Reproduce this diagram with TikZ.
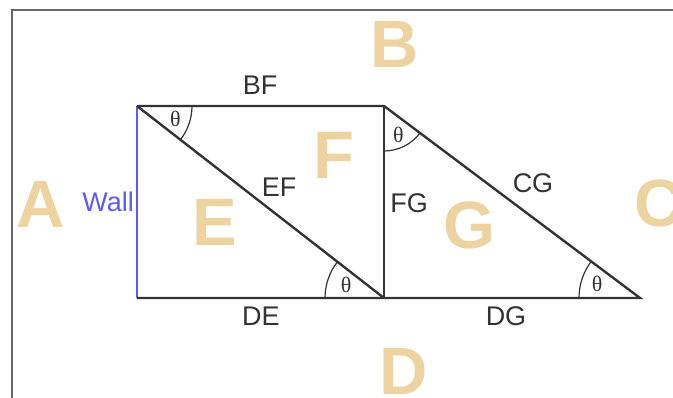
\documentclass[tikz,border=0pt]{standalone}
\usepackage{fontspec}
\setmainfont{Liberation Sans}
\newfontfamily\thetafont{Liberation Serif}
\usetikzlibrary{angles,quotes}
\definecolor{tan}{RGB}{236,211,160}
\definecolor{wallblue}{RGB}{90,90,255}
\definecolor{ink}{RGB}{51,51,51}
\tikzset{side/.style={color=#1,line width=2.4pt},side/.default=ink}
\tikzset{frame/.style={color=#1,line width=1.8pt},frame/.default={black!60}}
\tikzset{region/.style={color=tan,inner sep=0pt,font=\fontsize{67}{67}\selectfont\bfseries}}
\tikzset{sidename/.style={color=#1,inner sep=0pt,font=\fontsize{27}{27}\selectfont},sidename/.default=ink}
\tikzset{ang/.style={draw=ink,color=ink,line width=1.2pt,angle radius=#1,
    angle eccentricity=0.74,font=\fontsize{22}{22}\selectfont\thetafont},ang/.default=55pt}

\begin{document}
\begin{tikzpicture}[x=1pt,y=1pt]
	\useasboundingbox (0,0) rectangle (673,398);

	% A moldura
	\draw [frame] (12,0) -- (12,388) -- (673,388);

	% Os vertices
	\coordinate (TL) at (137,292);
	\coordinate (TM) at (384,292);
	\coordinate (BL) at (137,100);
	\coordinate (BM) at (384,100);
	\coordinate (BR) at (640,100);

	% Os lados
	\draw [side=wallblue] (TL) -- (BL);
	\draw [side, line join=miter] (BL) -- (BM) -- (BR) -- (TM) -- (TL);
	\draw [side] (TM) -- (BM);
	\draw [side] (TL) -- (BM);

	% Os angulos
	\pic [ang=55pt, "θ"] {angle=BM--TL--TM};
	\pic [ang=45pt, "θ", angle eccentricity=0.72] {angle=BM--TM--BR};
	\pic [ang=59pt, "θ", angle eccentricity=0.68] {angle=TL--BM--BL};
	\pic [ang=61pt, "θ"] {angle=TM--BR--BM};

	% Nomes dos lados
	\node [sidename] (bf) at (260,313) {BF};
	\node [sidename] (ef) at (279,211) {EF};
	\node [sidename] (fg) at (409,195) {FG};
	\node [sidename] (cg) at (533,215) {CG};
	\node [sidename] (de) at (261,82) {DE};
	\node [sidename] (dg) at (506,82) {DG};
	\node [sidename=wallblue, anchor=east] (wall) at (134,196) {Wall};

	% As regioes
	\node [region] (A) at (41,194) {A};
	\node [region] (B) at (395,354) {B};
	\node [region] (C) at (659,195) {C};
	\node [region] (D) at (404,27) {D};
	\node [region] (E) at (215,176) {E};
	\node [region] (F) at (334,243) {F};
	\node [region] (G) at (470,173) {G};

\end{tikzpicture}
\end{document}
